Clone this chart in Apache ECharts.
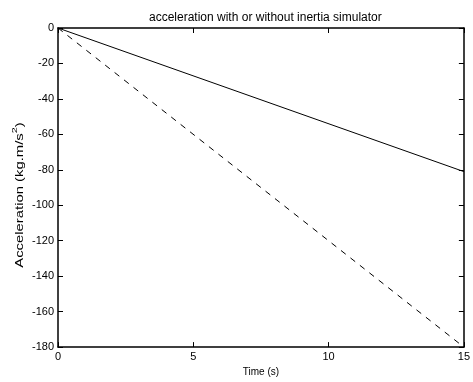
<!DOCTYPE html>
<html><head><meta charset="utf-8">
<script src="https://cdn.jsdelivr.net/npm/echarts@6/dist/echarts.min.js"></script>
<style>html,body{margin:0;padding:0;background:#fff}#c{width:473px;height:382px}</style>
</head><body><div id="c"></div>
<script>
const timeVals = [0, 15];
const withSimulator = [0, -81];
const withoutSimulator = [0, -180];
const xTicks = [0, 5, 10, 15];
const yTicks = [0, -20, -40, -60, -80, -100, -120, -140, -160, -180];

const font = 'Liberation Sans, Arial, sans-serif';
const chart = echarts.init(document.getElementById('c'));
const axisCommon = {
  axisLine: {show: true, onZero: false, lineStyle: {color: '#000', width: 1.5}},
  axisTick: {show: true, inside: true, length: 5, lineStyle: {color: '#000'}},
  splitLine: {show: false}
};
chart.setOption({
  animation: false,
  title: {text: 'acceleration with or without inertia simulator', left: 144, top: 7,
    textStyle: {fontFamily: font, fontSize: 12, fontWeight: 'normal', color: '#000'}},
  grid: {left: 58, right: 7, top: 28, bottom: 32},
  xAxis: [
    Object.assign({type: 'value', min: 0, max: 15, interval: 5, position: 'bottom',
      name: 'Time (s)', nameLocation: 'middle', nameGap: 19,
      nameTextStyle: {fontFamily: font, fontSize: 10, color: '#000'},
      axisLabel: {fontFamily: font, fontSize: 11, color: '#000', margin: 4}}, axisCommon),
    Object.assign({type: 'value', min: 0, max: 15, interval: 5, position: 'top',
      axisLabel: {show: false}}, axisCommon)
  ],
  yAxis: [
    Object.assign({type: 'value', min: -180, max: 0, interval: 20, position: 'left',
      axisLabel: {fontFamily: font, fontSize: 11, color: '#000', margin: 4}}, axisCommon),
    Object.assign({type: 'value', min: -180, max: 0, interval: 20, position: 'right',
      axisLabel: {show: false}}, axisCommon)
  ],
  graphic: [{
    type: 'text', x: 18, y: 195, rotation: Math.PI / 2, scaleX: 1.35,
    style: {
      text: '{a|Acceleration (kg.m/s}{s|2}{a|)}', align: 'center', verticalAlign: 'middle',
      rich: {a: {fontFamily: font, fontSize: 11, fill: '#000', color: '#000', lineHeight: 15, verticalAlign: 'bottom'},
        s: {fontFamily: font, fontSize: 8, fill: '#000', color: '#000', lineHeight: 15, verticalAlign: 'top'}}
    }
  }],
  series: [
    {type: 'line', data: timeVals.map((t, i) => [t, withSimulator[i]]), symbol: 'none',
      lineStyle: {color: '#000', width: 1, type: 'solid'}},
    {type: 'line', data: timeVals.map((t, i) => [t, withoutSimulator[i]]), symbol: 'none',
      lineStyle: {color: '#000', width: 1, type: [6, 6]}}
  ]
});
</script></body></html>
